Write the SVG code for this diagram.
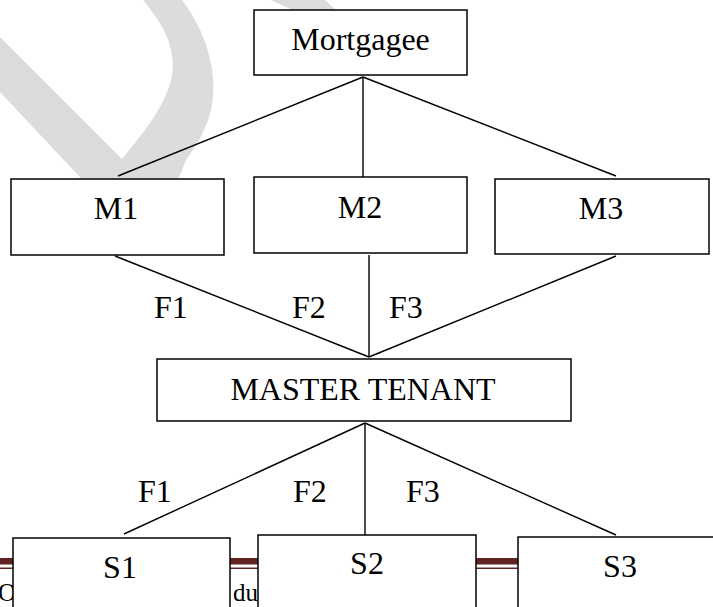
<svg xmlns="http://www.w3.org/2000/svg" width="713" height="607" viewBox="0 0 713 607">
<style>
.box{fill:#ffffff;stroke:#000000;stroke-width:1.5}
.lbl{font-family:"Liberation Serif","Times New Roman",serif;font-size:32px;fill:#000000}
.mid{text-anchor:middle}
.edge{stroke:#000000;stroke-width:1.4;fill:none}
.wm{fill:#dcdcdc}
.ft{font-family:"Liberation Serif","Times New Roman",serif;font-size:25px;fill:#000000}
</style>
<rect x="0" y="0" width="713" height="607" fill="#ffffff"/>
<g id="watermark">
<path class="wm" d="M0,37 L122,159 C150,125 178,90 172,55 C169,35 158,18 143,0 L182,0 C205,30 218,70 212,105 C208,128 196,146 186,160 L174,190 L92,190 L0,92 Z"/>
<path class="wm" d="M271,0 L297,12 L338,12 L325,0 Z"/>
</g>
<g id="footer">
<rect x="0" y="558" width="713" height="6.5" fill="#622423"/>
<rect x="0" y="567.5" width="713" height="1.5" fill="#622423"/>
<text class="ft" x="-2" y="601">O</text>
<text class="ft" x="233" y="601">du</text>
</g>
<g id="connectors">
<line class="edge" x1="363" y1="77" x2="118" y2="176"/>
<line class="edge" x1="363" y1="77" x2="363" y2="177"/>
<line class="edge" x1="363" y1="77" x2="616" y2="176"/>
<line class="edge" x1="115" y1="256" x2="369" y2="357"/>
<line class="edge" x1="369" y1="255" x2="369" y2="357"/>
<line class="edge" x1="616" y1="256" x2="369" y2="357"/>
<line class="edge" x1="365" y1="423" x2="124" y2="534"/>
<line class="edge" x1="365" y1="423" x2="365" y2="535"/>
<line class="edge" x1="365" y1="423" x2="616" y2="535"/>
<text class="lbl" x="154" y="318">F1</text>
<text class="lbl" x="292" y="318">F2</text>
<text class="lbl" x="389" y="318">F3</text>
<text class="lbl" x="138" y="502">F1</text>
<text class="lbl" x="293" y="502">F2</text>
<text class="lbl" x="406" y="502">F3</text>
</g>
<g id="mortgagee">
<rect class="box" x="254" y="10" width="213" height="65"/>
<text class="lbl mid" x="360.5" y="50">Mortgagee</text>
</g>
<g id="m1">
<rect class="box" x="11" y="179" width="213" height="76"/>
<text class="lbl mid" x="116" y="219">M1</text>
</g>
<g id="m2">
<rect class="box" x="254" y="177" width="213" height="76"/>
<text class="lbl mid" x="360" y="218">M2</text>
</g>
<g id="m3">
<rect class="box" x="495" y="179" width="214" height="75"/>
<text class="lbl mid" x="601" y="219">M3</text>
</g>
<g id="master-tenant">
<rect class="box" x="157" y="359" width="414" height="62"/>
<text class="lbl mid" x="363" y="400">MASTER TENANT</text>
</g>
<g id="s1">
<rect class="box" x="13" y="538" width="217" height="90"/>
<text class="lbl mid" x="120" y="578">S1</text>
</g>
<g id="s2">
<rect class="box" x="258" y="535" width="218" height="90"/>
<text class="lbl mid" x="367" y="574">S2</text>
</g>
<g id="s3">
<rect class="box" x="518" y="537" width="220" height="90"/>
<text class="lbl mid" x="620" y="577">S3</text>
</g>
</svg>
